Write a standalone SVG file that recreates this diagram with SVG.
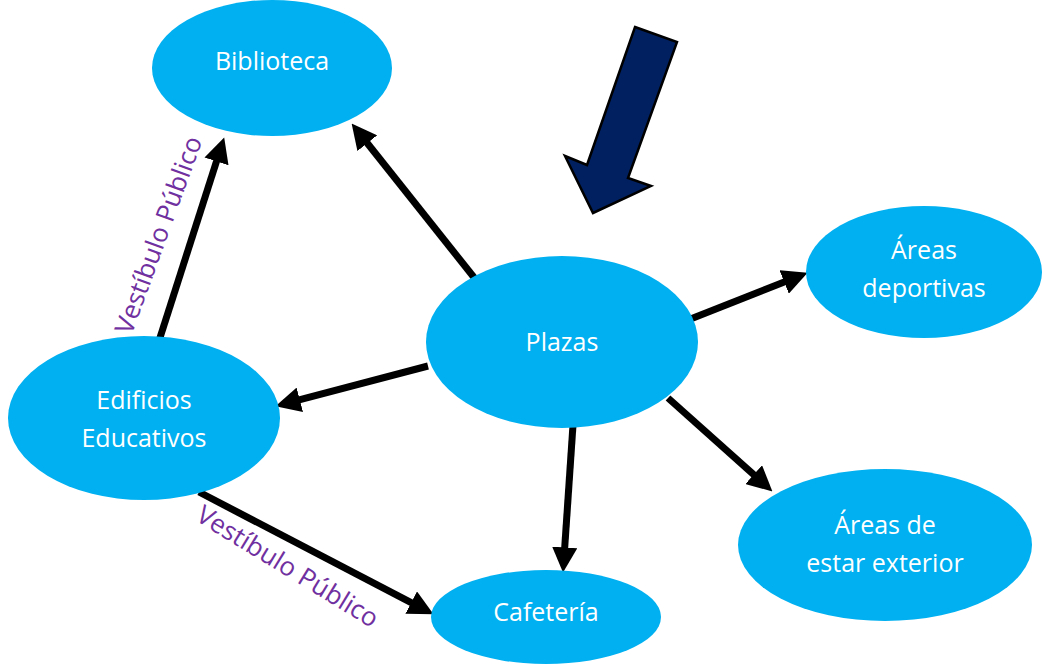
<svg xmlns="http://www.w3.org/2000/svg" width="1042" height="665" viewBox="0 0 1042 665">
<style>
.node{fill:#00B0F0;}
.lbl{font-family:"Open Sans","Liberation Sans",sans-serif;font-size:25px;fill:#ffffff;text-anchor:middle;}
.edge{stroke:#000;stroke-width:7;fill:none;marker-end:url(#ah);}
.vl{font-family:"Open Sans","Liberation Sans",sans-serif;font-size:26px;fill:#7030A0;text-anchor:middle;}
</style>
<defs>
<marker id="ah" viewBox="0 0 10 10" refX="3" refY="5" markerWidth="3.6" markerHeight="3.6" orient="auto" markerUnits="strokeWidth">
<path d="M0,0 L10,5 L0,10 z" fill="#000"/>
</marker>
</defs>
<rect width="1042" height="665" fill="#ffffff"/>
<g id="bigarrow">
<polygon points="635,27 677,42 628,178 651,186 593,213 565,156 587,165" fill="#002060" stroke="#000" stroke-width="2.5" stroke-linejoin="miter"/>
</g>
<g id="connectors">
<line class="edge" x1="484" y1="290" x2="362.6" y2="137.3"/>
<line class="edge" x1="157" y1="347" x2="218.8" y2="154.2"/>
<line class="edge" x1="428" y1="366" x2="292.5" y2="401.7"/>
<line class="edge" x1="688" y1="320" x2="791.2" y2="279.2"/>
<line class="edge" x1="668" y1="398" x2="759.3" y2="479.7"/>
<line class="edge" x1="573" y1="425" x2="564.2" y2="555"/>
<line class="edge" x1="199" y1="492" x2="417.9" y2="606.1"/>
<text class="vl" transform="translate(167,238) rotate(-70)">Vestíbulo Público</text>
<text class="vl" transform="translate(283,574) rotate(31.5)">Vestíbulo Público</text>
</g>
<g id="biblioteca">
<ellipse class="node" cx="272" cy="68" rx="120" ry="68"/>
<text class="lbl" x="272" y="70">Biblioteca</text>
</g>
<g id="plazas">
<ellipse class="node" cx="562" cy="342" rx="136" ry="86"/>
<text class="lbl" x="562" y="351">Plazas</text>
</g>
<g id="deportivas">
<ellipse class="node" cx="924" cy="272" rx="118" ry="66"/>
<text class="lbl" x="924" y="259">Áreas</text>
<text class="lbl" x="924" y="297">deportivas</text>
</g>
<g id="edificios">
<ellipse class="node" cx="144" cy="418" rx="136" ry="82"/>
<text class="lbl" x="144" y="409">Edificios</text>
<text class="lbl" x="144" y="447">Educativos</text>
</g>
<g id="cafeteria">
<ellipse class="node" cx="546" cy="617" rx="115" ry="47"/>
<text class="lbl" x="546" y="621">Cafetería</text>
</g>
<g id="estar">
<ellipse class="node" cx="885" cy="545" rx="147" ry="76"/>
<text class="lbl" x="885" y="534">Áreas de</text>
<text class="lbl" x="885" y="572">estar exterior</text>
</g>
</svg>
